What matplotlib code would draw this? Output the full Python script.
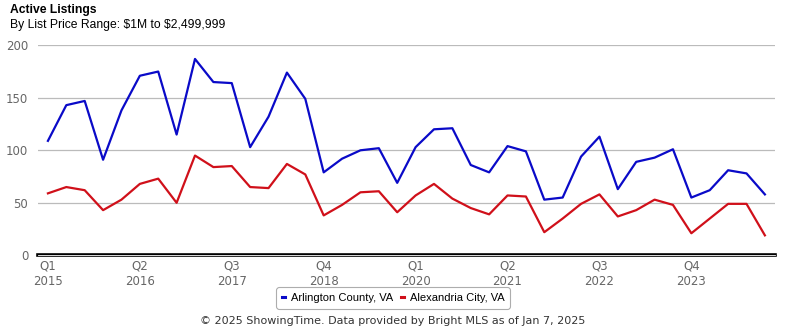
import matplotlib
matplotlib.use("Agg")
import matplotlib.pyplot as plt

# quarterly active listings, Q1 2015 .. Q4 2024
arlington = [109, 143, 147, 91, 138, 171, 175, 115, 187, 165, 164, 103,
             132, 174, 149, 79, 92, 100, 102, 69, 103, 120, 121, 86,
             79, 104, 99, 53, 55, 94, 113, 63, 89, 93, 101, 55,
             62, 81, 78, 58]
alexandria = [59, 65, 62, 43, 53, 68, 73, 50, 95, 84, 85, 65,
              64, 87, 77, 38, 48, 60, 61, 41, 57, 68, 54, 45,
              39, 57, 56, 22, 35, 49, 58, 37, 43, 53, 48, 21,
              35, 49, 49, 19]
tick_pos = [0, 5, 10, 15, 20, 25, 30, 35]
tick_labels = ["Q1\n2015", "Q2\n2016", "Q3\n2017", "Q4\n2018",
               "Q1\n2020", "Q2\n2021", "Q3\n2022", "Q4\n2023"]
y_ticks = [0, 50, 100, 150, 200]

fig = plt.figure(figsize=(7.85, 3.3), dpi=100)
ax = fig.add_axes([38 / 785, 1 - 255.3 / 330, 737 / 785, 210 / 330])

x = list(range(len(arlington)))
ax.plot(x, arlington, color="#0a0ac8", lw=1.6, label="Arlington County, VA", zorder=3)
ax.plot(x, alexandria, color="#d0101a", lw=1.6, label="Alexandria City, VA", zorder=3)

ax.set_xlim(-0.54, 39.55)
ax.set_ylim(0, 200)
ax.set_yticks(y_ticks)
ax.set_xticks(tick_pos)
ax.set_xticklabels(tick_labels, fontsize=8.5, color="#666666", linespacing=1.3)
ax.tick_params(axis="y", length=0, pad=7, labelsize=8.5, labelcolor="#666666")
ax.tick_params(axis="x", length=0, pad=3)
ax.grid(axis="y", color="#bbbbbb", lw=0.9)
ax.set_axisbelow(True)
for s in ax.spines.values():
    s.set_visible(False)

# double baseline at zero
ax.axhline(0, color="black", lw=2.6, clip_on=False, zorder=4)
ax.axhline(0, color="white", lw=0.6, clip_on=False, zorder=5)

fig.text(10 / 785, 1 - 10 / 330, "Active Listings", fontsize=8.7, fontweight="bold",
         family="Liberation Sans", va="center", ha="left")
fig.text(10 / 785, 1 - 25 / 330, r"By List Price Range: \$1M to \$2,499,999", fontsize=8.7,
         family="Liberation Sans", va="center", ha="left")

leg = fig.legend(loc="center", bbox_to_anchor=(393 / 785, 1 - 298 / 330), ncol=2,
                 frameon=True, fancybox=True, handlelength=0.3, handletextpad=0.5,
                 columnspacing=0.7, borderpad=0.5,
                 prop={"family": "Liberation Sans", "size": 8})
leg.get_frame().set_edgecolor("#999999")
leg.get_frame().set_linewidth(0.8)
for h in leg.legend_handles:
    h.set_linewidth(2.2)

fig.text(393 / 785, 1 - 321 / 330,
         "\u00a9 2025 ShowingTime. Data provided by Bright MLS as of Jan 7, 2025",
         fontsize=8, color="#333333", ha="center", va="center")

fig.savefig("out.png", dpi=100)
